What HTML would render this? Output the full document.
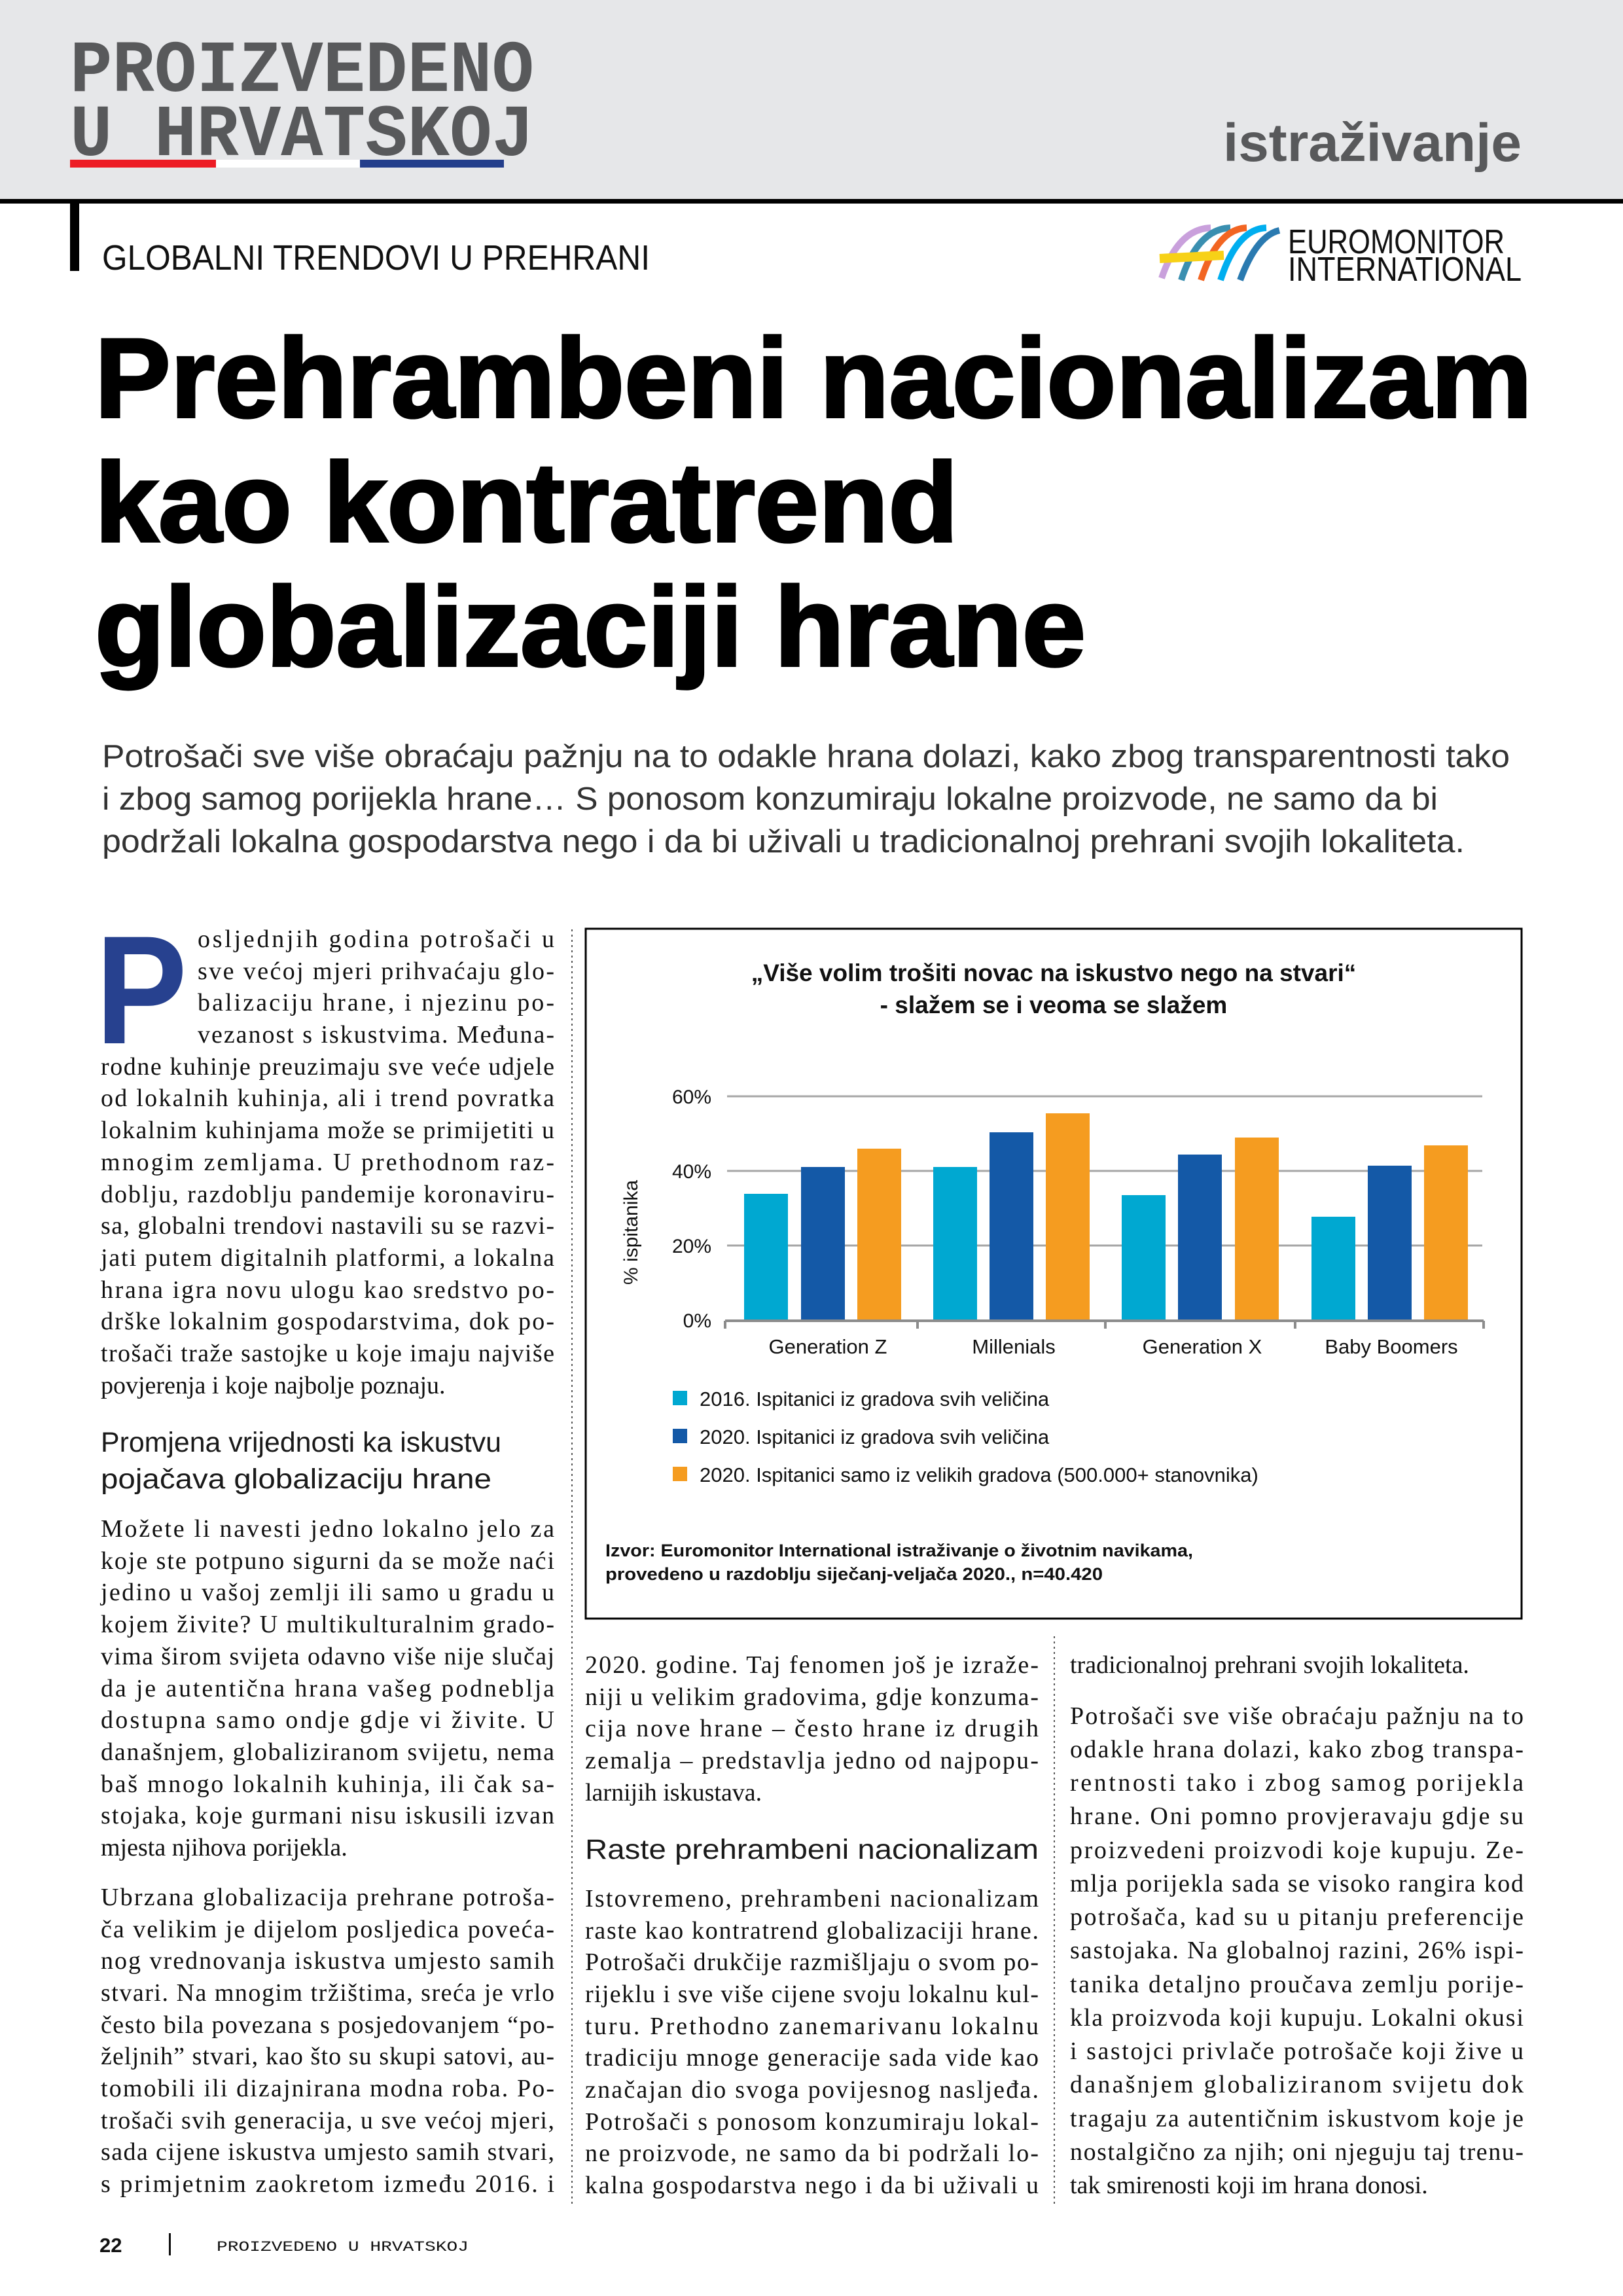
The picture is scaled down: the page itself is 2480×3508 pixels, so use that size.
<!DOCTYPE html>
<html><head><meta charset="utf-8"><style>
html,body{margin:0;padding:0;background:#fff}
svg{display:block}
.b{font-family:"Liberation Serif",serif;font-size:38px;fill:#111}
.h{font-family:"Liberation Sans",sans-serif;font-size:43px;fill:#1a1a1a}
.s{font-family:"Liberation Sans",sans-serif}
</style></head><body>
<svg width="2480" height="3508" viewBox="0 0 2480 3508" xmlns="http://www.w3.org/2000/svg">
<rect x="0" y="0" width="2480" height="304" fill="#e6e7e9"/>
<rect x="0" y="304" width="2480" height="7" fill="#000"/>
<!-- logo -->
<text x="107" y="139" font-family="Liberation Mono,monospace" font-weight="bold" font-size="112" fill="#58595b" textLength="709" lengthAdjust="spacingAndGlyphs">PROIZVEDENO</text>
<text x="107" y="237" font-family="Liberation Mono,monospace" font-weight="bold" font-size="112" fill="#58595b" textLength="709" lengthAdjust="spacingAndGlyphs">U HRVATSKOJ</text>
<rect x="107" y="244" width="223" height="12" fill="#ed1c24"/>
<rect x="330" y="244" width="220" height="12" fill="#fff"/>
<rect x="550" y="244" width="220" height="12" fill="#233e8b"/>
<text x="1869" y="246" class="s" font-weight="bold" font-size="82" fill="#58595b" textLength="456" lengthAdjust="spacingAndGlyphs">istraživanje</text>
<rect x="107" y="311" width="14" height="103" fill="#000"/>
<text x="156" y="412" class="s" font-size="54" fill="#111" textLength="837" lengthAdjust="spacingAndGlyphs">GLOBALNI TRENDOVI U PREHRANI</text>
<!-- euromonitor -->
<g fill="none" stroke-width="10">
<path d="M1775 425 Q1800 350 1850 348" stroke="#c9a0dc"/>
<path d="M1805 428 Q1830 350 1880 348" stroke="#3a8fb0"/>
<path d="M1835 428 Q1860 350 1905 348" stroke="#f26522"/>
<path d="M1865 428 Q1890 350 1935 348" stroke="#00aeef"/>
<path d="M1895 428 Q1920 360 1955 352" stroke="#2a7ab0"/>
<path d="M1772 395 L1870 390" stroke="#f7d117" stroke-width="14"/>
</g>
<text x="1968" y="387" class="s" font-size="52" fill="#111" textLength="331" lengthAdjust="spacingAndGlyphs">EUROMONITOR</text>
<text x="1968" y="429" class="s" font-size="52" fill="#111" textLength="357" lengthAdjust="spacingAndGlyphs">INTERNATIONAL</text>
<!-- title -->
<g class="s" font-weight="bold" font-size="172" fill="#000" stroke="#000" stroke-width="4">
<text x="145" y="637" textLength="2196" lengthAdjust="spacingAndGlyphs">Prehrambeni nacionalizam</text>
<text x="145" y="827" textLength="1319" lengthAdjust="spacingAndGlyphs">kao kontratrend</text>
<text x="145" y="1017" textLength="1514" lengthAdjust="spacingAndGlyphs">globalizaciji hrane</text>
</g>
<g class="s" font-size="49" fill="#333">
<text x="156" y="1172" textLength="2151" lengthAdjust="spacingAndGlyphs">Potrošači sve više obraćaju pažnju na to odakle hrana dolazi, kako zbog transparentnosti tako</text>
<text x="156" y="1237" textLength="2041" lengthAdjust="spacingAndGlyphs">i zbog samog porijekla hrane… S ponosom konzumiraju lokalne proizvode, ne samo da bi</text>
<text x="156" y="1302" textLength="2082" lengthAdjust="spacingAndGlyphs">podržali lokalna gospodarstva nego i da bi uživali u tradicionalnoj prehrani svojih lokaliteta.</text>
</g>
<!-- dotted separators -->
<line x1="874" y1="1420" x2="874" y2="3370" stroke="#555" stroke-width="2" stroke-dasharray="3,5"/>
<line x1="1611" y1="2500" x2="1611" y2="3370" stroke="#555" stroke-width="2" stroke-dasharray="3,5"/>
<!-- drop cap -->
<text x="146" y="1594" class="s" font-weight="bold" font-size="236" fill="#27418f" textLength="140" lengthAdjust="spacingAndGlyphs">P</text>
<!-- left column -->
<g class="b" lengthAdjust="spacing">
<text x="302" y="1447" textLength="545">osljednjih godina potrošači u</text>
<text x="302" y="1496" textLength="545">sve većoj mjeri prihvaćaju glo-</text>
<text x="302" y="1544" textLength="545">balizaciju hrane, i njezinu po-</text>
<text x="302" y="1593" textLength="545">vezanost s iskustvima. Međuna-</text>
<text x="154" y="1642" textLength="693">rodne kuhinje preuzimaju sve veće udjele</text>
<text x="154" y="1690" textLength="693">od lokalnih kuhinja, ali i trend povratka</text>
<text x="154" y="1739" textLength="693">lokalnim kuhinjama može se primijetiti u</text>
<text x="154" y="1788" textLength="693">mnogim zemljama. U prethodnom raz-</text>
<text x="154" y="1837" textLength="693">doblju, razdoblju pandemije koronaviru-</text>
<text x="154" y="1885" textLength="693">sa, globalni trendovi nastavili su se razvi-</text>
<text x="154" y="1934" textLength="693">jati putem digitalnih platformi, a lokalna</text>
<text x="154" y="1983" textLength="693">hrana igra novu ulogu kao sredstvo po-</text>
<text x="154" y="2031" textLength="693">drške lokalnim gospodarstvima, dok po-</text>
<text x="154" y="2080" textLength="693">trošači traže sastojke u koje imaju najviše</text>
<text x="154" y="2129">povjerenja i koje najbolje poznaju.</text>
</g>
<text x="154" y="2218" class="h" textLength="612" lengthAdjust="spacingAndGlyphs">Promjena vrijednosti ka iskustvu</text>
<text x="154" y="2274" class="h" textLength="597" lengthAdjust="spacingAndGlyphs">pojačava globalizaciju hrane</text>
<g class="b" lengthAdjust="spacing">
<text x="154" y="2348" textLength="693">Možete li navesti jedno lokalno jelo za</text>
<text x="154" y="2397" textLength="693">koje ste potpuno sigurni da se može naći</text>
<text x="154" y="2445" textLength="693">jedino u vašoj zemlji ili samo u gradu u</text>
<text x="154" y="2494" textLength="693">kojem živite? U multikulturalnim grado-</text>
<text x="154" y="2543" textLength="693">vima širom svijeta odavno više nije slučaj</text>
<text x="154" y="2592" textLength="693">da je autentična hrana vašeg podneblja</text>
<text x="154" y="2640" textLength="693">dostupna samo ondje gdje vi živite. U</text>
<text x="154" y="2689" textLength="693">današnjem, globaliziranom svijetu, nema</text>
<text x="154" y="2738" textLength="693">baš mnogo lokalnih kuhinja, ili čak sa-</text>
<text x="154" y="2786" textLength="693">stojaka, koje gurmani nisu iskusili izvan</text>
<text x="154" y="2835">mjesta njihova porijekla.</text>
<text x="154" y="2911" textLength="693">Ubrzana globalizacija prehrane potroša-</text>
<text x="154" y="2960" textLength="693">ča velikim je dijelom posljedica poveća-</text>
<text x="154" y="3008" textLength="693">nog vrednovanja iskustva umjesto samih</text>
<text x="154" y="3057" textLength="693">stvari. Na mnogim tržištima, sreća je vrlo</text>
<text x="154" y="3106" textLength="693">često bila povezana s posjedovanjem “po-</text>
<text x="154" y="3154" textLength="693">željnih” stvari, kao što su skupi satovi, au-</text>
<text x="154" y="3203" textLength="693">tomobili ili dizajnirana modna roba. Po-</text>
<text x="154" y="3252" textLength="693">trošači svih generacija, u sve većoj mjeri,</text>
<text x="154" y="3300" textLength="693">sada cijene iskustva umjesto samih stvari,</text>
<text x="154" y="3349" textLength="693">s primjetnim zaokretom između 2016. i</text>
</g>
<!-- middle column -->
<g class="b" lengthAdjust="spacing">
<text x="894" y="2556" textLength="693">2020. godine. Taj fenomen još je izraže-</text>
<text x="894" y="2605" textLength="693">niji u velikim gradovima, gdje konzuma-</text>
<text x="894" y="2653" textLength="693">cija nove hrane – često hrane iz drugih</text>
<text x="894" y="2702" textLength="693">zemalja – predstavlja jedno od najpopu-</text>
<text x="894" y="2751">larnijih iskustava.</text>
</g>
<text x="894" y="2840" class="h" textLength="693" lengthAdjust="spacingAndGlyphs">Raste prehrambeni nacionalizam</text>
<g class="b" lengthAdjust="spacing">
<text x="894" y="2913" textLength="693">Istovremeno, prehrambeni nacionalizam</text>
<text x="894" y="2962" textLength="693">raste kao kontratrend globalizaciji hrane.</text>
<text x="894" y="3010" textLength="693">Potrošači drukčije razmišljaju o svom po-</text>
<text x="894" y="3059" textLength="693">rijeklu i sve više cijene svoju lokalnu kul-</text>
<text x="894" y="3108" textLength="693">turu. Prethodno zanemarivanu lokalnu</text>
<text x="894" y="3156" textLength="693">tradiciju mnoge generacije sada vide kao</text>
<text x="894" y="3205" textLength="693">značajan dio svoga povijesnog nasljeđa.</text>
<text x="894" y="3254" textLength="693">Potrošači s ponosom konzumiraju lokal-</text>
<text x="894" y="3302" textLength="693">ne proizvode, ne samo da bi podržali lo-</text>
<text x="894" y="3351" textLength="693">kalna gospodarstva nego i da bi uživali u</text>
</g>
<!-- right column -->
<g class="b" lengthAdjust="spacing">
<text x="1635" y="2556">tradicionalnoj prehrani svojih lokaliteta.</text>
<text x="1635" y="2634" textLength="693">Potrošači sve više obraćaju pažnju na to</text>
<text x="1635" y="2685" textLength="693">odakle hrana dolazi, kako zbog transpa-</text>
<text x="1635" y="2736" textLength="693">rentnosti tako i zbog samog porijekla</text>
<text x="1635" y="2787" textLength="693">hrane. Oni pomno provjeravaju gdje su</text>
<text x="1635" y="2839" textLength="693">proizvedeni proizvodi koje kupuju. Ze-</text>
<text x="1635" y="2890" textLength="693">mlja porijekla sada se visoko rangira kod</text>
<text x="1635" y="2941" textLength="693">potrošača, kad su u pitanju preferencije</text>
<text x="1635" y="2992" textLength="693">sastojaka. Na globalnoj razini, 26% ispi-</text>
<text x="1635" y="3044" textLength="693">tanika detaljno proučava zemlju porije-</text>
<text x="1635" y="3095" textLength="693">kla proizvoda koji kupuju. Lokalni okusi</text>
<text x="1635" y="3146" textLength="693">i sastojci privlače potrošače koji žive u</text>
<text x="1635" y="3197" textLength="693">današnjem globaliziranom svijetu dok</text>
<text x="1635" y="3249" textLength="693">tragaju za autentičnim iskustvom koje je</text>
<text x="1635" y="3300" textLength="693">nostalgično za njih; oni njeguju taj trenu-</text>
<text x="1635" y="3351">tak smirenosti koji im hrana donosi.</text>
</g>
<!-- chart -->
<rect x="895" y="1419" width="1430" height="1054" fill="none" stroke="#000" stroke-width="3"/>
<g class="s" font-weight="bold" font-size="37" fill="#111" text-anchor="middle">
<text x="1610" y="1499">„Više volim trošiti novac na iskustvo nego na stvari“</text>
<text x="1610" y="1548">- slažem se i veoma se slažem</text>
</g>
<g stroke="#a6a6a6" stroke-width="3">
<line x1="1111" y1="1675" x2="2265" y2="1675"/>
<line x1="1111" y1="1789" x2="2265" y2="1789"/>
<line x1="1111" y1="1903" x2="2265" y2="1903"/>
</g>
<g class="s" font-size="30" fill="#111" text-anchor="end">
<text x="1087" y="1686">60%</text><text x="1087" y="1800">40%</text><text x="1087" y="1914">20%</text><text x="1087" y="2028">0%</text>
</g>
<text transform="translate(974,1883) rotate(-90)" class="s" font-size="30" fill="#111" text-anchor="middle">% ispitanika</text>
<g>
<rect x="1137" y="1824" width="67" height="193" fill="#00a8d1"/>
<rect x="1224" y="1783" width="67" height="234" fill="#1459a7"/>
<rect x="1310" y="1755" width="67" height="262" fill="#f59c20"/>
<rect x="1426" y="1783" width="67" height="234" fill="#00a8d1"/>
<rect x="1512" y="1730" width="67" height="287" fill="#1459a7"/>
<rect x="1598" y="1701" width="67" height="316" fill="#f59c20"/>
<rect x="1714" y="1826" width="67" height="191" fill="#00a8d1"/>
<rect x="1800" y="1764" width="67" height="253" fill="#1459a7"/>
<rect x="1887" y="1738" width="67" height="279" fill="#f59c20"/>
<rect x="2004" y="1859" width="67" height="158" fill="#00a8d1"/>
<rect x="2090" y="1781" width="67" height="236" fill="#1459a7"/>
<rect x="2176" y="1750" width="67" height="267" fill="#f59c20"/>
</g>
<g stroke="#8c8c8c" stroke-width="4">
<line x1="1108" y1="2018" x2="2267" y2="2018"/>
<line x1="1108" y1="2018" x2="1108" y2="2030"/>
<line x1="1402" y1="2018" x2="1402" y2="2030"/>
<line x1="1689" y1="2018" x2="1689" y2="2030"/>
<line x1="1979" y1="2018" x2="1979" y2="2030"/>
<line x1="2267" y1="2018" x2="2267" y2="2030"/>
</g>
<g class="s" font-size="31" fill="#111" text-anchor="middle">
<text x="1265" y="2068">Generation Z</text><text x="1549" y="2068">Millenials</text><text x="1837" y="2068">Generation X</text><text x="2126" y="2068">Baby Boomers</text>
</g>
<rect x="1028" y="2125" width="22" height="22" fill="#00a8d1"/>
<rect x="1028" y="2183" width="22" height="22" fill="#1459a7"/>
<rect x="1028" y="2241" width="22" height="22" fill="#f59c20"/>
<g class="s" font-size="31" fill="#111">
<text x="1069" y="2148">2016. Ispitanici iz gradova svih veličina</text>
<text x="1069" y="2206">2020. Ispitanici iz gradova svih veličina</text>
<text x="1069" y="2264">2020. Ispitanici samo iz velikih gradova (500.000+ stanovnika)</text>
</g>
<g class="s" font-weight="bold" font-size="27" fill="#111">
<text x="925" y="2378" textLength="898" lengthAdjust="spacingAndGlyphs">Izvor: Euromonitor International istraživanje o životnim navikama,</text>
<text x="925" y="2414" textLength="760" lengthAdjust="spacingAndGlyphs">provedeno u razdoblju siječanj-veljača 2020., n=40.420</text>
</g>
<!-- footer -->
<text x="152" y="3441" class="s" font-weight="bold" font-size="31" fill="#111">22</text>
<rect x="258" y="3412" width="3" height="34" fill="#111"/>
<text x="331" y="3439" font-family="Liberation Mono,monospace" font-size="22" fill="#111" textLength="385" lengthAdjust="spacingAndGlyphs">PROIZVEDENO U HRVATSKOJ</text>
</svg>
</body></html>
